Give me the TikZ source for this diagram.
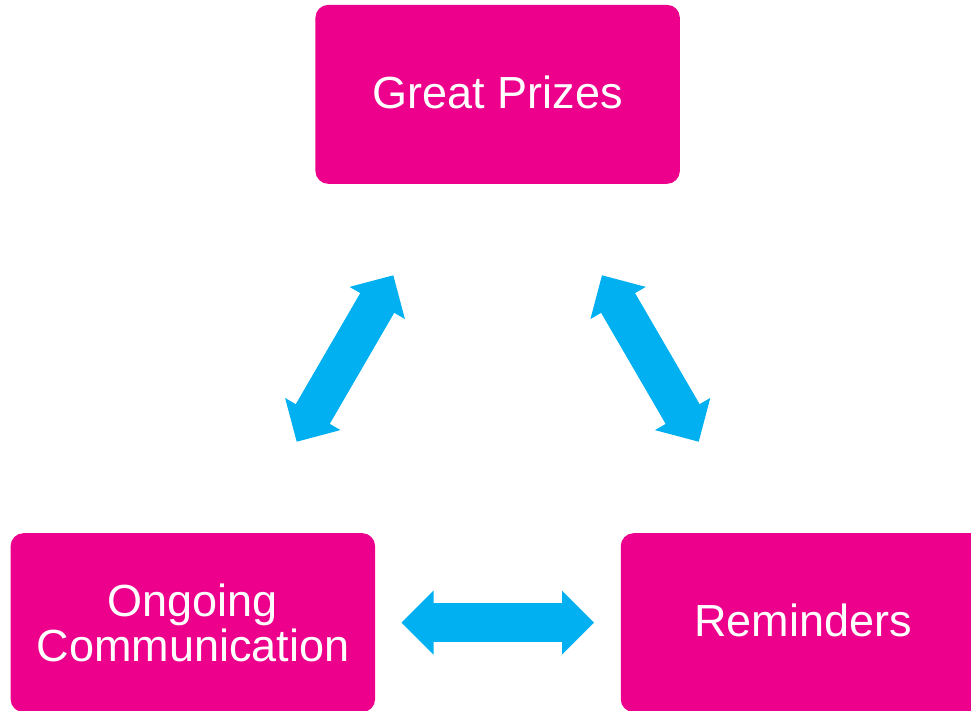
\documentclass[tikz,border=0pt]{standalone}
\usepackage{fontspec}
\setmainfont{Liberation Sans}
\usetikzlibrary{arrows.meta}
\definecolor{boxmagenta}{HTML}{EC008C}
\definecolor{arrowcyan}{HTML}{00B0F0}
\begin{document}
\begin{tikzpicture}[x=1pt,y=-1pt,
  box/.style={fill=boxmagenta, rounded corners=13pt, inner sep=0pt, text=white,
    font=\fontsize{45}{45}\selectfont, align=center,
    minimum width=364.5pt, minimum height=179pt},
  oneline/.style={text height=32pt, text depth=4pt},
  bigarrow/.style={draw=arrowcyan, fill=arrowcyan, line width=39pt,
    {Triangle[length=32pt,width=64pt,line width=0pt]}-{Triangle[length=32pt,width=64pt,line width=0pt]},
    postaction={draw=arrowcyan, arrows=-, shorten <=28pt, shorten >=28pt}}]
\useasboundingbox (0,0) rectangle (971,711);
\clip (0,0) rectangle (971,711);
\node[box, oneline] (gp) at (497.65,94.35) {Great Prizes};
\node[box] (oc) at (192.85,622.65) {Ongoing\\Communication};
\node[box, oneline] (rem) at (803,622.65) {Reminders};
\coordinate (la) at (296.7,441.7);
\coordinate (lb) at (393.3,275.3);
\coordinate (ra) at (602,275.3);
\coordinate (rb) at (698.7,441.7);
\coordinate (ha) at (401.5,622.7);
\coordinate (hb) at (594,622.7);
\draw[bigarrow] (la) -- (lb);
\draw[bigarrow] (ra) -- (rb);
\draw[bigarrow] (ha) -- (hb);
\end{tikzpicture}
\end{document}
